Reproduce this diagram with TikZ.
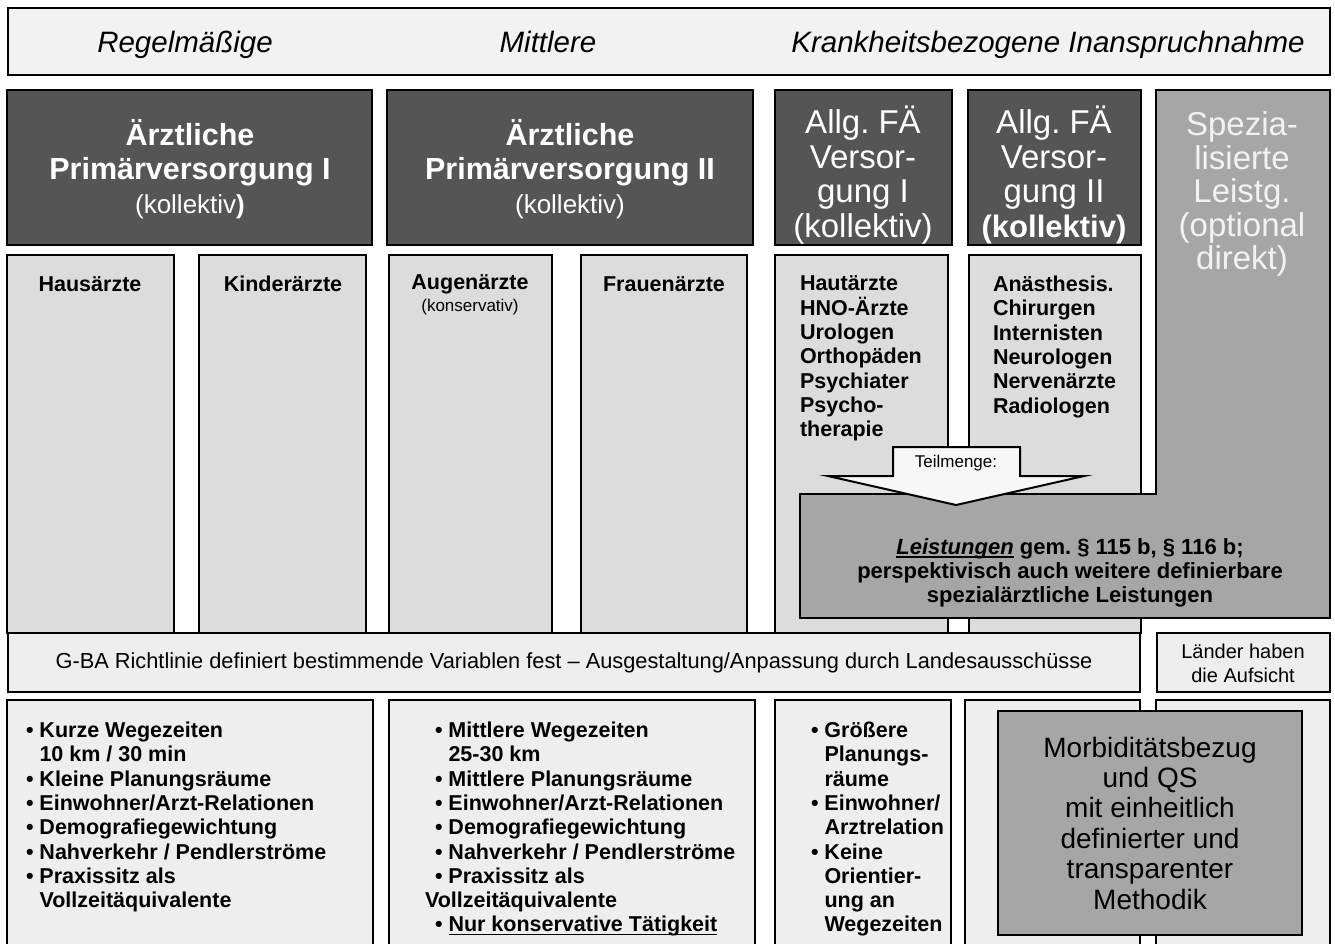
\documentclass[tikz,border=0pt]{standalone}
\usepackage{fontspec}
\setmainfont{Liberation Sans}
\definecolor{darkbox}{HTML}{555555}
\definecolor{colfill}{HTML}{DCDCDC}
\definecolor{lightfill}{HTML}{EEEEEE}
\definecolor{bannerfill}{HTML}{F2F2F2}
\definecolor{midgray}{HTML}{A6A6A6}
\definecolor{spextext}{HTML}{F2F2F2}
\definecolor{arrowfill}{HTML}{F7F7F7}
\newcommand\fsz[2]{\fontsize{#1}{#2}\selectfont}
\newcommand\bul{\textbullet\ }
\newcommand\indb{\hphantom{\textbullet\ }}
\newcommand\myul[1]{\setbox0=\hbox{#1}\rlap{\rule[-3.5pt]{\wd0}{1.8pt}}\box0\relax}
\tikzset{
  frame/.style={draw=black, line width=2.5pt},
  banner/.style={frame, fill=bannerfill},
  darkb/.style={frame, fill=darkbox},
  colb/.style={frame, fill=colfill},
  lowb/.style={frame, fill=lightfill},
  midb/.style={frame, fill=midgray},
  arrowb/.style={draw=black, line width=2pt, fill=arrowfill, line join=miter},
  txt/.style={inner sep=0pt, outer sep=0pt},
  bantxt/.style={txt, anchor=base, font=\fsz{29.5}{33}\itshape},
  htxt/.style={txt, text=white, align=center},
  coltxt/.style={txt, font=\fsz{21.5}{24.3}\bfseries},
  listtxt/.style={txt, font=\fsz{21.5}{24.3}\bfseries, align=left, anchor=north west},
}
\begin{document}
\frenchspacing
\begin{tikzpicture}[x=1pt,y=-1pt]
\useasboundingbox (0,0) rectangle (1335,943);
\clip (0,0) rectangle (1335,943);
\fill[white] (0,0) rectangle (1335,943);
% banner
\draw[banner] (8,8) rectangle (1330,75);
% header boxes
\draw[darkb] (7,90) rectangle (372,245);
\draw[darkb] (387,90) rectangle (753,245);
\draw[darkb] (775,90) rectangle (952,245);
\draw[darkb] (968,90) rectangle (1141,245);
% columns
\draw[colb] (7,255) rectangle (174,633);
\draw[colb] (199,255) rectangle (366,633);
\draw[colb] (389,255) rectangle (552,633);
\draw[colb] (581,255) rectangle (747,633);
\draw[colb] (775,255) rectangle (948,633);
\draw[colb] (969,255) rectangle (1141,633);
% specialised L-shape
\draw[midb] (1156,90) -- (1330,90) -- (1330,618) -- (800,618) -- (800,494) -- (1156,494) -- cycle;
% arrow
\draw[arrowb] (893,447) -- (1020,447) -- (1020,476) -- (1084,476) -- (956,505) -- (828,476) -- (893,476) -- cycle;
% G-BA bar
\draw[lowb] (8,633) rectangle (1140,692);
\draw[lowb] (1157,633) rectangle (1330,692);
% bottom boxes
\draw[lowb] (7,700) rectangle (373,960);
\draw[lowb] (389,700) rectangle (755,960);
\draw[lowb] (775,700) rectangle (951,960);
\draw[lowb] (965,700) rectangle (1140,960);
\draw[lowb] (1156,700) rectangle (1330,960);
\draw[midb] (998,711) rectangle (1302,935);

% banner texts
\node[bantxt] (t1) at (185,52) {Regelmäßige};
\node[bantxt] (t2) at (548,52) {Mittlere};
\node[bantxt] (t3) at (1048,52) {Krankheitsbezogene Inanspruchnahme};
% header texts
\node[htxt, font=\fsz{30.5}{34}\bfseries] (h1t) at (190,169)
  {Ärztliche\\Primärversorgung I\\{\mdseries\fsz{26}{34}(kollektiv\textbf{)}}};
\node[htxt, font=\fsz{30.5}{34}\bfseries] (h2t) at (570,169)
  {Ärztliche\\Primärversorgung II\\{\mdseries\fsz{26}{34}(kollektiv)}};
\node[htxt, font=\fsz{33}{34.5}] (h3t) at (863,175)
  {Allg. FÄ\\Versor-\\gung I\\(kollektiv)};
\node[htxt, font=\fsz{33}{34.5}] (h4t) at (1054,175)
  {Allg. FÄ\\Versor-\\gung II\\{\bfseries\fsz{31}{34.5}(kollektiv)}};
\node[htxt, text=spextext, font=\fsz{33}{33.5}] (spt) at (1242,194)
  {Spezia-\\lisierte\\Leistg.\\(optional\\direkt)};
% column texts
\node[coltxt] (hau) at (90,284) {Hausärzte};
\node[coltxt] (kin) at (283,284) {Kinderärzte};
\node[coltxt] (aug) at (470,284) {Augenärzte};
\node[txt, font=\fsz{17}{20}] (augk) at (470,307) {(konservativ)};
\node[coltxt] (fra) at (664,284) {Frauenärzte};
\node[listtxt] (haut) at (800,276)
  {Hautärzte\\HNO-Ärzte\\Urologen\\Orthopäden\\Psychiater\\Psycho-\\therapie};
\node[listtxt] (anae) at (993,276)
  {Anästhesis.\\Chirurgen\\Internisten\\Neurologen\\Nervenärzte\\Radiologen};
% arrow and Leistungen
\node[txt, font=\fsz{17}{20}] (teil) at (956,463) {Teilmenge:};
\node[txt, align=center, font=\fsz{22}{24.3}\bfseries] (leist) at (1070,573)
  {\myul{\textit{Leistungen}} gem. § 115 b, § 116 b;\\perspektivisch auch weitere definierbare\\spezialärztliche Leistungen};
% G-BA
\node[txt, font=\fsz{21.8}{24}] (gba) at (574,663)
  {G-BA Richtlinie definiert bestimmende Variablen fest – Ausgestaltung/Anpassung durch Landesausschüsse};
\node[txt, align=center, font=\fsz{20}{24}] (laend) at (1243,663) {Länder haben\\die Aufsicht};
% bottom texts
\node[listtxt] (b1t) at (26,722)
  {\bul Kurze Wegezeiten\\\indb 10 km / 30 min\\\bul Kleine Planungsräume\\\bul Einwohner/Arzt-Relationen\\\bul Demografiegewichtung\\\bul Nahverkehr / Pendlerströme\\\bul Praxissitz als\\\indb Vollzeitäquivalente};
\node[listtxt] (b2t) at (435,722)
  {\bul Mittlere Wegezeiten\\\indb 25-30 km\\\bul Mittlere Planungsräume\\\bul Einwohner/Arzt-Relationen\\\bul Demografiegewichtung\\\bul Nahverkehr / Pendlerströme\\\bul Praxissitz als\\\hspace*{-10pt}Vollzeitäquivalente\\\bul \myul{Nur konservative Tätigkeit}};
\node[listtxt] (b3t) at (811,722)
  {\bul Größere\\\indb Planungs-\\\indb räume\\\bul Einwohner/\\\indb Arztrelation\\\bul Keine\\\indb Orientier-\\\indb ung an\\\indb Wegezeiten};
\node[txt, align=center, font=\fsz{28}{30.4}] (morb) at (1150,823)
  {Morbiditätsbezug\\und QS\\mit einheitlich\\definierter und\\transparenter\\Methodik};
\end{tikzpicture}
\end{document}
